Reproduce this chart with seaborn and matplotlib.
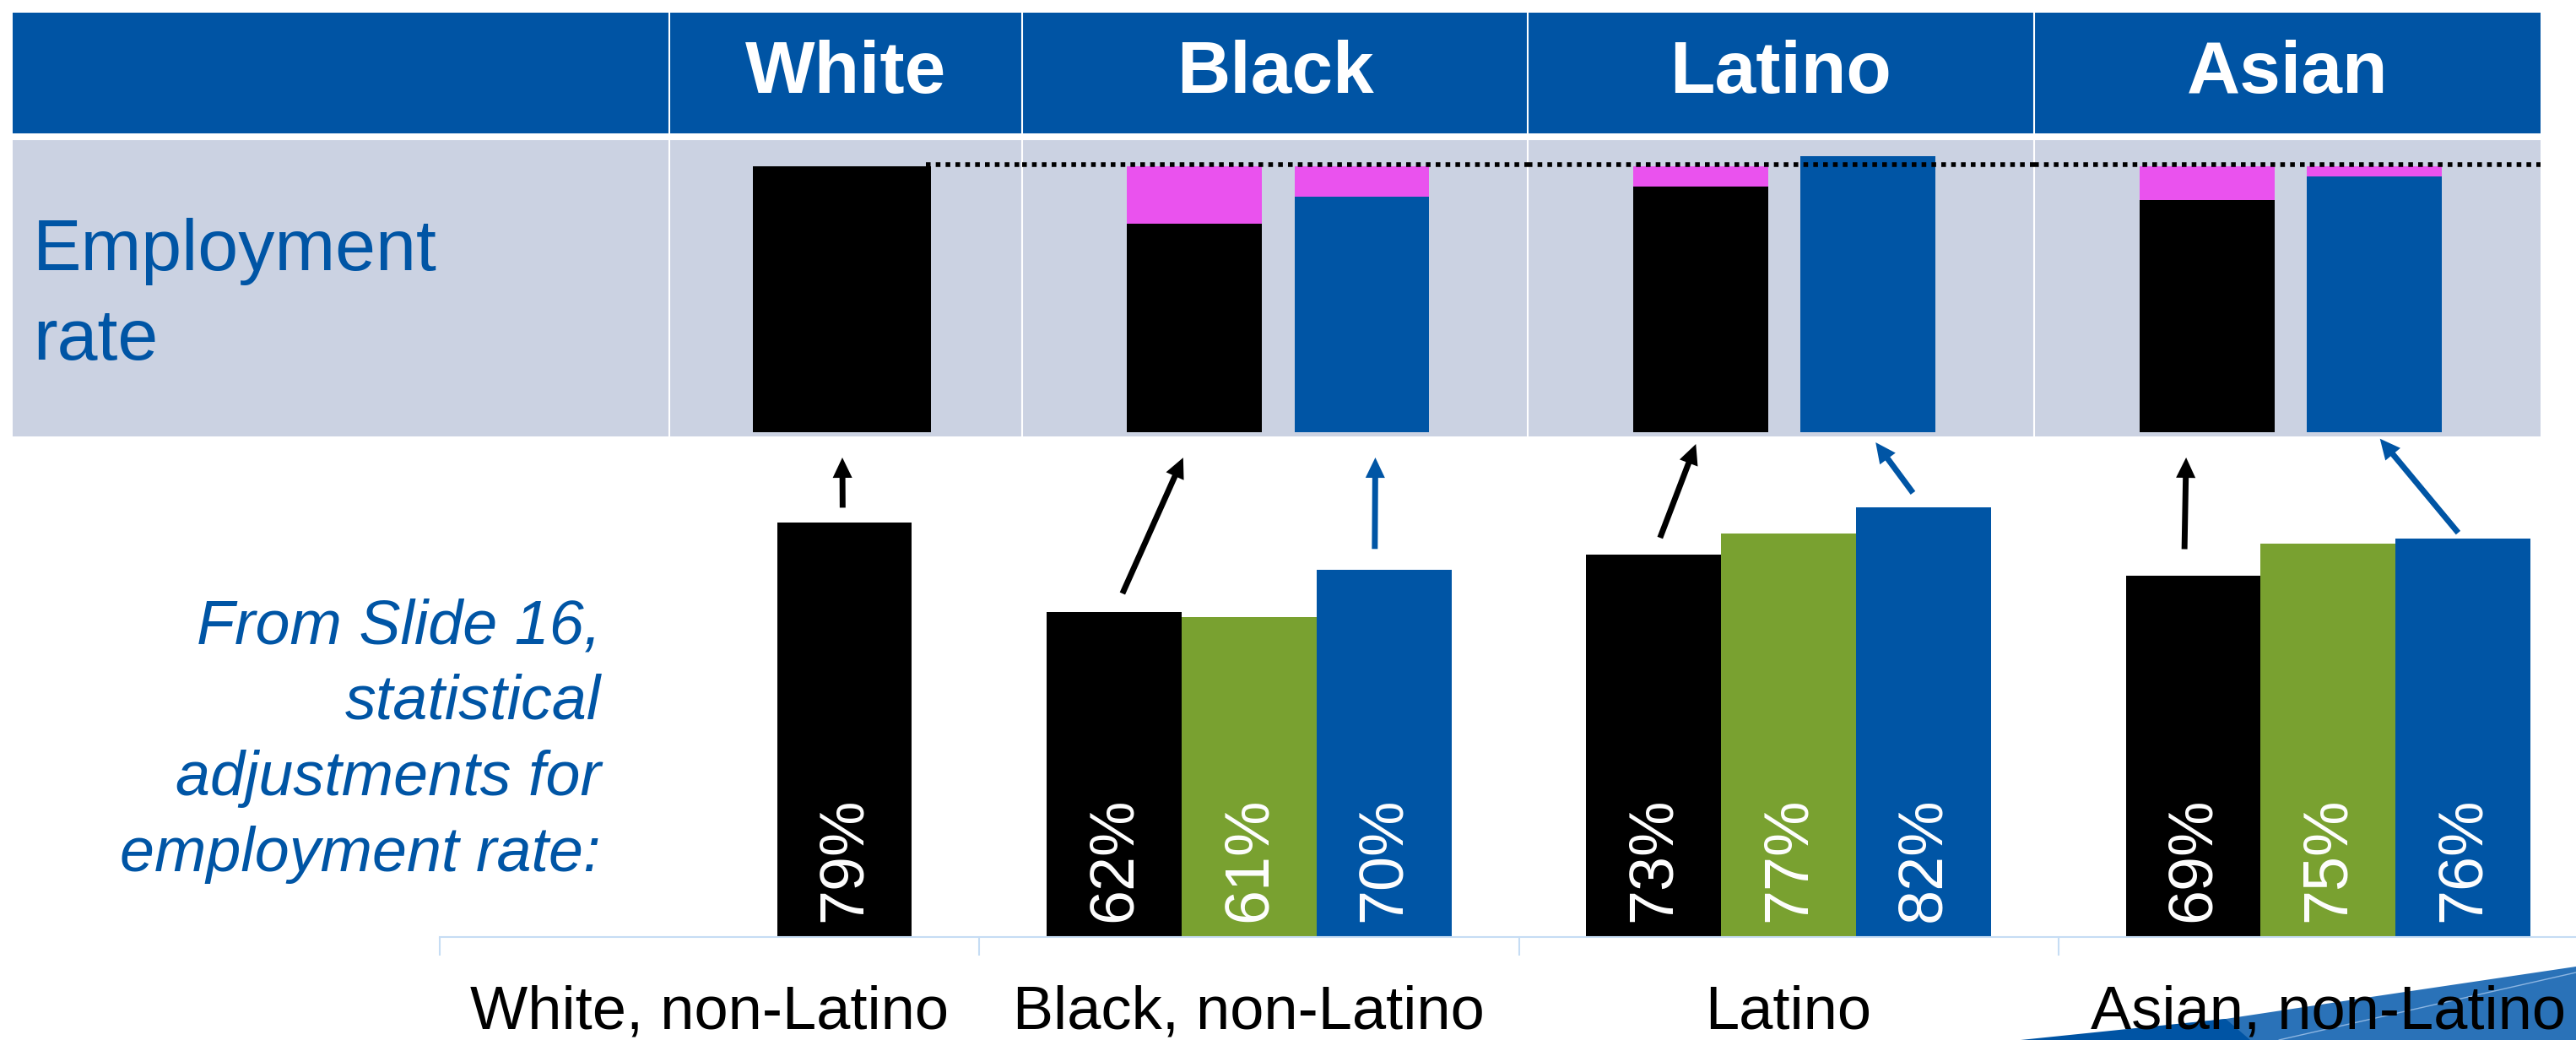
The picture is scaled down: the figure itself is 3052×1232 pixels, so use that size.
import numpy as np
import pandas as pd
import seaborn as sns
import matplotlib.pyplot as plt
from matplotlib.patches import Rectangle, Polygon, ConnectionPatch
from matplotlib.transforms import offset_copy

# ==========================================
# DATA
# ==========================================
groups = ['White', 'Black', 'Latino', 'Asian']
group_labels = ['White, non-Latino', 'Black, non-Latino', 'Latino', 'Asian, non-Latino']
series = ['Unadjusted', 'Adjusted (partial)', 'Adjusted (full)']

rate_unadj = [79, 62, 73, 69]           # black bars
rate_adj_a = [np.nan, 61, 77, 75]       # green bars
rate_adj_b = [np.nan, 70, 82, 76]       # blue bars

# ==========================================
# STYLE / LAYOUT
# ==========================================
NAVY = '#0054A4'
BLUE = '#0055A5'
GRAY = '#CBD2E2'
PINK = '#EA52EE'
GREEN = '#79A130'
TICK = '#C6DDF4'

sns.set_style('white')
plt.rcParams['font.family'] = ['Liberation Sans', 'DejaVu Sans']

W, H = 3052, 1232
fig = plt.figure(figsize=(W / 100, H / 100), dpi=100)


def px_axes(x0, y0, x1, y1):
    # pixel box (top-left origin) -> figure axes
    return fig.add_axes([x0 / W, 1 - y1 / H, (x1 - x0) / W, (y1 - y0) / H])


COL_X = [15, 793, 1211, 1810, 2410, 3010]
HEAD_Y = (15, 158)
ROW_Y = (166, 517)
BAR_BASE = 512
TOP_PX = 3.987     # pixels per % in the table row
BOT_TOP, BOT_BASE = 540, 1110
BOT_PX = 6.21      # pixels per % in the lower chart

# -- background: table + decoration --
ax_bg = px_axes(0, 0, W, H)
ax_bg.set_xlim(0, W)
ax_bg.set_ylim(H, 0)
ax_bg.set_axis_off()

ax_bg.add_patch(Rectangle((COL_X[0], HEAD_Y[0]), COL_X[-1] - COL_X[0], HEAD_Y[1] - HEAD_Y[0],
                          color=NAVY, lw=0))
ax_bg.add_patch(Rectangle((COL_X[0], ROW_Y[0]), COL_X[-1] - COL_X[0], ROW_Y[1] - ROW_Y[0],
                          color=GRAY, lw=0))
ax_bg.vlines(COL_X[1:-1], HEAD_Y[0], HEAD_Y[1], color='white', lw=1.5)
ax_bg.vlines(COL_X[1:-1], ROW_Y[0], ROW_Y[1], color='white', lw=1.5)

for i, g in enumerate(groups):
    ax_bg.text((COL_X[i + 1] + COL_X[i + 2]) / 2, 110, g, ha='center', va='baseline',
               fontsize=63, fontweight='bold', color='white')

for txt, yb in zip(['Employment', 'rate'], [320, 426]):
    ax_bg.text(39, yb, txt, ha='left', va='baseline', fontsize=62, color=BLUE)

note = ['From Slide 16,', 'statistical', 'adjustments for', 'employment rate:']
for txt, yb in zip(note, [763, 852, 942, 1032]):
    ax_bg.text(712, yb, txt, ha='right', va='baseline', fontsize=53,
               fontstyle='italic', color=BLUE)

# slide swoosh, bottom right
ax_bg.add_patch(Polygon([(2420, 1232), (2637, 1207), (2816, 1180), (3052, 1145), (3052, 1232)],
                        closed=True, color='#2A72B8', lw=0))
ax_bg.add_patch(Polygon([(2394, 1232), (2637, 1207), (2666, 1232)], closed=True, color=NAVY, lw=0))
ax_bg.plot([2700, 3052], [1232, 1152], color='#8DB6E2', lw=1)

# ==========================================
# TABLE ROW: employment rate vs White benchmark
# ==========================================
bench = rate_unadj[0]
top_axes = []
for i, g in enumerate(groups):
    ax = px_axes(COL_X[i + 1], ROW_Y[0], COL_X[i + 2], BAR_BASE)
    if i == 0:
        sns.barplot(x=[series[0]], y=[rate_unadj[0]], color='black', width=0.505,
                    saturation=1, linewidth=0, ax=ax)
        ax.set_xlim(-0.49, 0.51)
    else:
        kinds = [series[0], series[2]]
        vals = [rate_unadj[i], rate_adj_b[i]]
        sns.barplot(x=kinds, y=[bench, bench], color=PINK, width=0.805, saturation=1,
                    linewidth=0, ax=ax)
        sns.barplot(x=kinds, y=vals, hue=kinds, palette=['black', BLUE], width=0.805,
                    saturation=1, dodge=False, legend=False, linewidth=0, ax=ax)
        ax.set_xlim(-1.03, 1.99)
    ax.set_ylim(0, (BAR_BASE - ROW_Y[0]) / TOP_PX)
    ax.set_axis_off()

    xmin = 0
    if i == 0:
        b = ax.patches[0]
        x0, x1 = ax.get_xlim()
        xmin = (b.get_x() + b.get_width() - x0) / (x1 - x0) - 0.015
    line = ax.axhline(bench, xmin=xmin, xmax=1, color='black', lw=4,
                      ls=(0, (1, 1.1)), dash_capstyle='butt')
    line.set_transform(offset_copy(line.get_transform(), fig=fig, y=2.5, units='dots'))
    line.set_clip_on(False)
    top_axes.append(ax)

# ==========================================
# LOWER CHART: statistical adjustments
# ==========================================
# White only has its own rate; on the slide it sits in the right-hand slot
slot_rates = [
    [np.nan] + rate_unadj[1:],
    rate_adj_a,
    [rate_unadj[0]] + rate_adj_b[1:],
]
long = pd.DataFrame({
    'group': np.tile(group_labels, 3),
    'series': np.repeat(series, len(group_labels)),
    'rate': np.concatenate(slot_rates),
}).dropna()

ax_b = px_axes(521, BOT_TOP, 3078, BOT_BASE)
sns.barplot(data=long, x='group', y='rate', hue='series', order=group_labels,
            hue_order=series, palette=['black', GREEN, BLUE], width=0.75,
            saturation=1, linewidth=0, legend=False, ax=ax_b)

for bar in ax_b.patches:
    cx = bar.get_x() + bar.get_width() / 2
    if int(round(cx)) == 0:
        bar.set_facecolor('black')
    h = bar.get_height()
    if np.isfinite(h) and h > 0:
        ax_b.text(cx, 2.9, f'{h:.0f}%', rotation=90, rotation_mode='anchor',
                  ha='left', va='center', color='white', fontsize=53)

ax_b.set_xlim(-0.5, 3.5)
ax_b.set_ylim(0, (BOT_BASE - BOT_TOP) / BOT_PX)
ax_b.patch.set_alpha(0)
sns.despine(ax=ax_b, left=True)
ax_b.spines['bottom'].set_color(TICK)
ax_b.spines['bottom'].set_linewidth(1.5)
ax_b.set_yticks([])
ax_b.set_xlabel('')
ax_b.set_ylabel('')
ax_b.set_xticks(np.arange(-0.5, 4), minor=True)
ax_b.tick_params(axis='x', which='major', length=0, pad=41, labelsize=52, labelcolor='black')
ax_b.tick_params(axis='x', which='minor', bottom=True, length=16, width=1.5,
                 color=TICK, direction='out')

# ==========================================
# ARROWS: lower bars -> table row bars
# ==========================================
# (group, slot, top bar, colour, tail gap px, head gap px, tail nudge px, head nudge px)
arrows = [
    (0, 2, 0, 'black', 18, 30, -2, 0),
    (1, 0, 0, 'black', 24, 33, 0, 0),
    (1, 2, 1, BLUE, 25, 30, -11, 16),
    (2, 0, 0, 'black', 21, 15, 0, 0),
    (2, 2, 1, BLUE, 21, 15, 0, 0),
    (3, 0, 0, 'black', 31, 30, -11, -24),
    (3, 2, 1, BLUE, 9, 10, 0, 0),
]
for gi, slot, tb, col, ga, gb, dxa, dxb in arrows:
    bx = gi + (slot - 1) * 0.25
    by = slot_rates[slot][gi]
    con = ConnectionPatch(xyA=(bx, by),
                          coordsA=offset_copy(ax_b.transData, fig=fig, x=dxa, units='dots'),
                          xyB=(tb, 0),
                          coordsB=offset_copy(top_axes[gi].transData, fig=fig, x=dxb, units='dots'),
                          arrowstyle='simple,head_length=1.73,head_width=1.66,tail_width=0.5',
                          mutation_scale=10, shrinkA=ga * 0.72, shrinkB=gb * 0.72,
                          color=col, lw=0)
    fig.add_artist(con)

plt.savefig('out.png', dpi=100)
